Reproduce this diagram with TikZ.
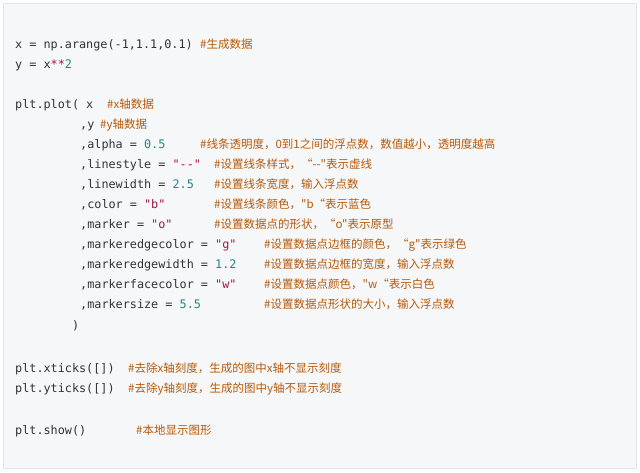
\documentclass[tikz,border=0pt]{standalone}
\usepackage{fontspec}
\setmonofont{DejaVu Sans Mono}
\newfontfamily\cjk{Noto Sans CJK SC}
\definecolor{bgc}{HTML}{F6F7F8}
\definecolor{bdc}{HTML}{E3E5E8}
\definecolor{codec}{HTML}{333333}
\definecolor{numc}{HTML}{268484}
\definecolor{strc}{HTML}{A3154A}
\definecolor{cmtc}{HTML}{B55A0C}
\newcommand{\nm}[1]{\textcolor{numc}{#1}}
\newcommand{\st}[1]{\textcolor{strc}{#1}}
\begin{document}
\begin{tikzpicture}[x=1pt,y=-1pt,
  code/.style={anchor=base west,inner sep=0pt,text=codec,font=\fontsize{11.8}{14}\ttfamily},
  cmt/.style={anchor=base west,inner sep=0pt,text=cmtc,font=\fontsize{11.5}{14}\cjk}]
\useasboundingbox (0,0) rectangle (640,472);
\draw[bdc,fill=bgc] (3.5,3.5) rectangle (636.5,468.5);
\node[code] (l1) at (15,48) {x = np.arange(-1,1.1,0.1)};
\node[cmt] (c1) at (200,48) {\#生成数据};
\node[code] (l2) at (15,68) {y = x\textcolor{strc}{**}\nm{2}};
\node[code] (l3) at (15,108) {plt.plot( x};
\node[cmt] (c3) at (107,108) {\#x轴数据};
\node[code] (l4) at (80,128) {,y};
\node[cmt] (c4) at (100,128) {\#y轴数据};
\node[code] (l5) at (80,148) {,alpha = \nm{0.5}};
\node[cmt] (c5) at (200,148) {\#线条透明度，0到1之间的浮点数，数值越小，透明度越高};
\node[code] (l6) at (80,168) {,linestyle = \st{"--"}};
\node[cmt] (c6) at (214,168) {\#设置线条样式，“--"表示虚线};
\node[code] (l7) at (80,188) {,linewidth = \nm{2.5}};
\node[cmt] (c7) at (214,188) {\#设置线条宽度，输入浮点数};
\node[code] (l8) at (80,208) {,color = \st{"b"}};
\node[cmt] (c8) at (214,208) {\#设置线条颜色，"b“表示蓝色};
\node[code] (l9) at (80,228) {,marker = \st{"o"}};
\node[cmt] (c9) at (214,228) {\#设置数据点的形状，“o"表示原型};
\node[code] (l10) at (80,248) {,markeredgecolor = \st{"g"}};
\node[cmt] (c10) at (264,248) {\#设置数据点边框的颜色，“g"表示绿色};
\node[code] (l11) at (80,268) {,markeredgewidth = \nm{1.2}};
\node[cmt] (c11) at (264,268) {\#设置数据点边框的宽度，输入浮点数};
\node[code] (l12) at (80,288) {,markerfacecolor = \st{"w"}};
\node[cmt] (c12) at (264,288) {\#设置数据点颜色，"w“表示白色};
\node[code] (l13) at (80,308) {,markersize = \nm{5.5}};
\node[cmt] (c13) at (264,308) {\#设置数据点形状的大小，输入浮点数};
\node[code] (l14) at (72,329) {)};
\node[code] (l15) at (15,372) {plt.xticks([])};
\node[cmt] (c15) at (128,372) {\#去除x轴刻度，生成的图中x轴不显示刻度};
\node[code] (l16) at (15,392) {plt.yticks([])};
\node[cmt] (c16) at (128,392) {\#去除y轴刻度，生成的图中y轴不显示刻度};
\node[code] (l17) at (15,434) {plt.show()};
\node[cmt] (c17) at (136,434) {\#本地显示图形};
\end{tikzpicture}
\end{document}
